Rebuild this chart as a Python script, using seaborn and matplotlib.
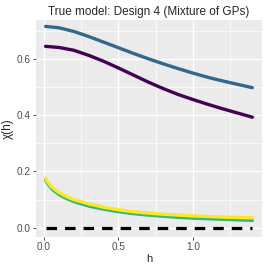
import numpy as np
import pandas as pd
import matplotlib
matplotlib.use("Agg")
import matplotlib.pyplot as plt
import seaborn as sns
from matplotlib.ticker import MultipleLocator, FormatStrFormatter

# values
h_upper = [0.01, 0.1, 0.2, 0.3, 0.4, 0.5, 0.6, 0.7, 0.8, 0.9, 1.0, 1.1, 1.2, 1.3, 1.4]
chi_blue = [0.716, 0.711, 0.698, 0.680, 0.660, 0.640, 0.620, 0.601, 0.583, 0.566,
            0.550, 0.535, 0.522, 0.510, 0.498]
chi_purple = [0.645, 0.641, 0.631, 0.613, 0.592, 0.568, 0.543, 0.518, 0.495, 0.474,
              0.456, 0.439, 0.423, 0.408, 0.393]

h_lower = [0.01, 0.025, 0.05, 0.1, 0.15, 0.2, 0.3, 0.4, 0.5, 0.6, 0.7, 0.8, 0.9,
           1.0, 1.2, 1.4]
chi_yellow = [0.176, 0.162, 0.145, 0.125, 0.111, 0.100, 0.085, 0.073, 0.064, 0.057,
              0.052, 0.048, 0.045, 0.042, 0.038, 0.035]
chi_green = [0.171, 0.156, 0.139, 0.118, 0.104, 0.093, 0.077, 0.066, 0.057, 0.050,
             0.045, 0.041, 0.037, 0.034, 0.030, 0.026]

h_zero = [0.01, 1.4]
chi_zero = [0.0, 0.0]

series = ["A", "B", "C", "D"]
colors = ["#440154", "#31688E", "#35B779", "#FDE725"]

df = pd.concat([
    pd.DataFrame({"h": h_upper, "chi": chi_purple, "model": "A"}),
    pd.DataFrame({"h": h_upper, "chi": chi_blue, "model": "B"}),
    pd.DataFrame({"h": h_lower, "chi": chi_green, "model": "C"}),
    pd.DataFrame({"h": h_lower, "chi": chi_yellow, "model": "D"}),
])

sns.set_theme(style="darkgrid", rc={
    "axes.facecolor": "#EBEBEB",
    "grid.color": "white",
    "axes.edgecolor": "#EBEBEB",
})
plt.rcParams["font.family"] = ["Liberation Sans", "DejaVu Sans"]

fig = plt.figure(figsize=(2.66, 2.66), dpi=100)
ax = fig.add_axes([0.135, 0.108, 0.85, 0.815])

sns.lineplot(data=df, x="h", y="chi", hue="model", hue_order=series,
             palette=colors, linewidth=2.4, legend=False, ax=ax)
sns.lineplot(x=h_zero, y=chi_zero, color="black", linewidth=2.3,
             dashes=False, ax=ax).lines[-1].set_dashes((3.3, 2.5))

ax.set_xlim(-0.055, 1.465)
ax.set_ylim(-0.034, 0.737)
ax.xaxis.set_major_locator(MultipleLocator(0.5))
ax.xaxis.set_minor_locator(MultipleLocator(0.25))
ax.yaxis.set_major_locator(MultipleLocator(0.2))
ax.yaxis.set_minor_locator(MultipleLocator(0.1))
ax.xaxis.set_major_formatter(FormatStrFormatter("%.1f"))
ax.yaxis.set_major_formatter(FormatStrFormatter("%.1f"))
ax.grid(which="major", color="white", linewidth=1.0)
ax.grid(which="minor", color="white", linewidth=0.5)
ax.tick_params(which="major", length=2, width=0.6, color="#333333",
               labelsize=7.2, labelcolor="#4D4D4D", pad=1.5,
               bottom=True, left=True)
ax.tick_params(which="minor", length=0)
for s in ax.spines.values():
    s.set_visible(False)

ax.set_xlabel("h", fontsize=8, labelpad=1)
ax.set_ylabel("χ(h)", fontsize=8.5, labelpad=2)
ax.set_title("True model: Design 4 (Mixture of GPs)", fontsize=8.5, pad=4)

fig.savefig("out.png", dpi=100)
